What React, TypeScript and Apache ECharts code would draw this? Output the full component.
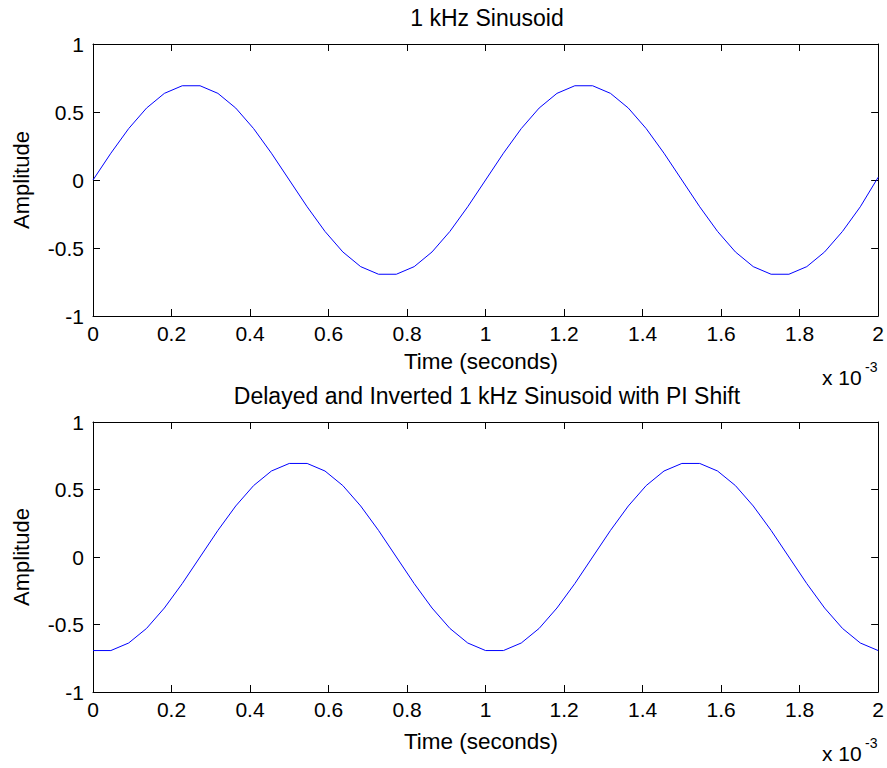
import React, { useEffect, useRef } from "react";
import * as echarts from "echarts";

// time in milliseconds (axis shows x 10^-3 seconds)
const timeMs = [
  0, 0.0455, 0.0909, 0.1364, 0.1818, 0.2273, 0.2727, 0.3182, 0.3636, 0.4091,
  0.4545, 0.5, 0.5455, 0.5909, 0.6364, 0.6818, 0.7273, 0.7727, 0.8182, 0.8636,
  0.9091, 0.9545, 1.0, 1.0455, 1.0909, 1.1364, 1.1818, 1.2273, 1.2727, 1.3182,
  1.3636, 1.4091, 1.4545, 1.5, 1.5455, 1.5909, 1.6364, 1.6818, 1.7273, 1.7727,
  1.8182, 1.8636, 1.9091, 1.9545, 2.0,
];

const sinusoid = [
  0, 0.197, 0.378, 0.529, 0.637, 0.693, 0.693, 0.637, 0.529, 0.378,
  0.197, 0, -0.197, -0.378, -0.529, -0.637, -0.693, -0.693, -0.637, -0.529,
  -0.378, -0.197, 0, 0.197, 0.378, 0.529, 0.637, 0.693, 0.693, 0.637,
  0.529, 0.378, 0.197, 0, -0.197, -0.378, -0.529, -0.637, -0.693, -0.693,
  -0.637, -0.529, -0.378, -0.197, 0.02,
];

const delayedInverted = [
  -0.693, -0.693, -0.637, -0.529, -0.378, -0.197, 0, 0.197, 0.378, 0.529,
  0.637, 0.693, 0.693, 0.637, 0.529, 0.378, 0.197, 0, -0.197, -0.378,
  -0.529, -0.637, -0.693, -0.693, -0.637, -0.529, -0.378, -0.197, 0, 0.197,
  0.378, 0.529, 0.637, 0.693, 0.693, 0.637, 0.529, 0.378, 0.197, 0,
  -0.197, -0.378, -0.529, -0.637, -0.693,
];

const titles = ["1 kHz Sinusoid", "Delayed and Inverted 1 kHz Sinusoid with PI Shift"];
const xName = "Time (seconds)";
const yName = "Amplitude";

const FONT = "'Liberation Sans', Arial, Helvetica, sans-serif";

export default function App() {
  const ref = useRef<HTMLDivElement>(null);

  useEffect(() => {
    if (!ref.current) return;
    const chart = echarts.init(ref.current, null, { renderer: "svg" });

    const grids = [
      { left: 93, top: 44, width: 786, height: 272 },
      { left: 93, top: 422, width: 786, height: 270 },
    ];

    const axisLine = { show: true, onZero: false, lineStyle: { color: "#000", width: 1 } };
    const tick = { show: true, inside: true, length: 7, lineStyle: { color: "#000", width: 1 } };
    const labelStyle = { color: "#000", fontSize: 21, fontFamily: FONT };

    const xAxes: any[] = [];
    const yAxes: any[] = [];
    grids.forEach((_, i) => {
      xAxes.push({
        type: "value", gridIndex: i, min: 0, max: 2, interval: 0.2, position: "bottom",
        axisLine, axisTick: tick, splitLine: { show: false },
        axisLabel: { ...labelStyle, margin: 7, showMaxLabel: true, showMinLabel: true },
      });
      xAxes.push({
        type: "value", gridIndex: i, min: 0, max: 2, interval: 0.2, position: "top",
        axisLine, axisTick: tick, splitLine: { show: false }, axisLabel: { show: false },
      });
      yAxes.push({
        type: "value", gridIndex: i, min: -1, max: 1, interval: 0.5, position: "left",
        axisLine, axisTick: tick, splitLine: { show: false },
        axisLabel: { ...labelStyle, margin: 9 },
      });
      yAxes.push({
        type: "value", gridIndex: i, min: -1, max: 1, interval: 0.5, position: "right",
        axisLine, axisTick: tick, splitLine: { show: false }, axisLabel: { show: false },
      });
    });

    const seriesData = [sinusoid, delayedInverted];
    const series = seriesData.map((vals, i) => ({
      type: "line",
      xAxisIndex: i * 2,
      yAxisIndex: i * 2,
      data: timeMs.map((t, k) => [t, vals[k]]),
      symbol: "none",
      lineStyle: { color: "#0000ff", width: 1 },
      itemStyle: { color: "#0000ff" },
    }));

    const textStyle = (text: string, size = 22, align = "center") => ({
      text, fill: "#000", fontSize: size, fontFamily: FONT,
      textAlign: align, textVerticalAlign: "middle",
    });

    const graphic: any[] = [];
    const titleY = [18, 396];
    const xNameY = [361, 741];
    const yNameY = [180, 557];
    const expY = [377, 753];
    grids.forEach((_, i) => {
      graphic.push({ type: "text", x: 487, y: titleY[i], style: textStyle(titles[i], 23) });
      graphic.push({ type: "text", x: 481, y: xNameY[i], style: textStyle(xName, 22.5) });
      graphic.push({
        type: "text", x: 21, y: yNameY[i], rotation: Math.PI / 2,
        style: textStyle(yName, 22),
      });
      graphic.push({ type: "text", x: 822, y: expY[i], style: textStyle("x 10", 21, "left") });
      graphic.push({ type: "text", x: 865, y: expY[i] - 10, style: textStyle("-3", 14, "left") });
    });

    chart.setOption({
      animation: false,
      backgroundColor: "#fff",
      grid: grids,
      xAxis: xAxes,
      yAxis: yAxes,
      series,
      graphic,
    });

    return () => chart.dispose();
  }, []);

  return (
    <div
      ref={ref}
      style={{ position: "fixed", left: 0, top: 0, width: 887, height: 768 }}
    />
  );
}
